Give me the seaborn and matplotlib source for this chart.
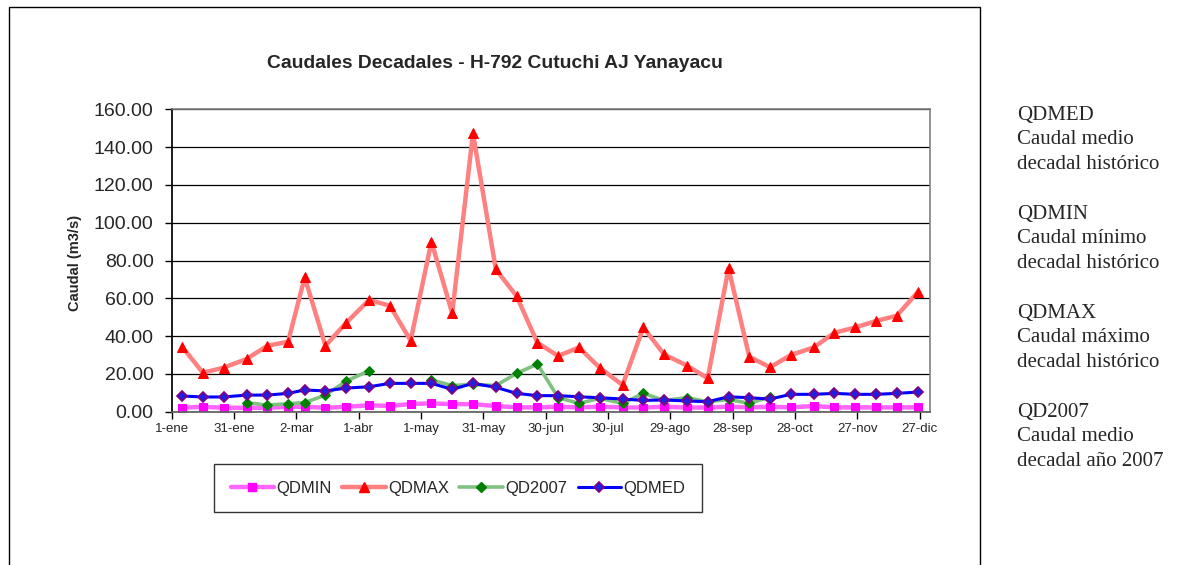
import numpy as np
import pandas as pd
import seaborn as sns
import matplotlib
matplotlib.use("Agg")
import matplotlib.pyplot as plt
from matplotlib.lines import Line2D
from matplotlib.patches import Rectangle

# decadas del año (fecha central de cada decada)
meses = list(range(1, 13))
dias_decada = [6, 16, 26]
fechas = pd.to_datetime([f"2007-{m:02d}-{d:02d}" for m in meses for d in dias_decada])

qdmin = [2.1, 2.6, 2.1, 2.1, 2.1, 2.6, 2.6, 2.1, 2.6, 3.4,
         3.0, 4.1, 4.4, 4.0, 4.0, 3.0, 2.3, 2.3, 2.6, 2.3,
         2.6, 2.3, 2.2, 2.6, 2.2, 2.2, 2.6, 2.3, 2.6, 2.3,
         3.0, 2.3, 2.3, 2.3, 2.3, 2.3]
qdmax = [34.4, 20.6, 23.3, 27.9, 34.9, 37.0, 71.1, 34.9, 47.1, 59.1,
         56.1, 37.6, 90.0, 52.1, 147.3, 75.3, 61.2, 36.5, 29.5, 34.0,
         23.3, 14.1, 44.6, 30.3, 24.4, 17.7, 75.9, 29.1, 23.5, 30.0,
         34.0, 41.8, 44.6, 48.0, 50.8, 63.2]
qd2007 = [np.nan, np.nan, np.nan, 4.8, 3.5, 4.2, 4.8, 8.8, 16.2, 21.7,
          np.nan, np.nan, 16.8, 13.8, 14.5, 13.8, 20.3, 25.2, 7.5, 4.4,
          7.1, 4.4, 9.7, 6.0, 7.4, 5.3, 6.5, 4.4, 7.9, np.nan,
          np.nan, np.nan, np.nan, np.nan, np.nan, np.nan]
qdmed = [8.3, 7.8, 7.8, 8.8, 8.8, 9.7, 11.5, 11.0, 12.5, 13.2,
         15.0, 15.0, 15.0, 11.8, 15.0, 12.9, 9.7, 8.5, 8.5, 7.9,
         7.4, 6.7, 6.0, 6.2, 5.7, 5.3, 7.9, 7.4, 6.7, 9.2,
         9.2, 9.7, 9.2, 9.2, 9.7, 10.4]

etiquetas_x = ["1-ene", "31-ene", "2-mar", "1-abr", "1-may", "31-may", "30-jun",
               "30-jul", "29-ago", "28-sep", "28-oct", "27-nov", "27-dic"]

notas = [
    "QDMED\nCaudal medio\ndecadal histórico",
    "QDMIN\nCaudal mínimo\ndecadal histórico",
    "QDMAX\nCaudal máximo\ndecadal histórico",
    "QD2007\nCaudal medio\ndecadal año 2007",
]

df = pd.DataFrame({"Fecha": fechas, "QDMIN": qdmin, "QDMAX": qdmax,
                   "QD2007": qd2007, "QDMED": qdmed})
df["tramo"] = df["QD2007"].isna().cumsum()
df07 = df.dropna(subset=["QD2007"])

sns.set_theme(style="white")
plt.rcParams["font.family"] = ["Liberation Sans", "DejaVu Sans"]

fig = plt.figure(figsize=(11.81, 5.65), dpi=100)
ax = fig.add_axes([0.1454, 0.2713, 0.7875 - 0.1454, 0.8065 - 0.2713])

estilos = {
    "QDMIN": dict(color="#FF66FF", lw=3.2, marker="s", ms=6,
                  mfc="#FF00FF", mec="#FF00FF"),
    "QDMAX": dict(color="#FF8080", lw=3.2, marker="^", ms=7,
                  mfc="#FF0000", mec="#FF0000"),
    "QD2007": dict(color="#80C080", lw=2.6, marker="D", ms=5,
                   mfc="#008000", mec="#008000"),
    "QDMED": dict(color="#0000FF", lw=2.2, marker="D", ms=5,
                  mfc="#2020E0", mec="#800080", mew=1.2),
}

sns.lineplot(data=df, x="Fecha", y="QDMIN", ax=ax, **estilos["QDMIN"])
sns.lineplot(data=df, x="Fecha", y="QDMAX", ax=ax, **estilos["QDMAX"])
sns.lineplot(data=df07, x="Fecha", y="QD2007", units="tramo", estimator=None,
             ax=ax, **estilos["QD2007"])
sns.lineplot(data=df, x="Fecha", y="QDMED", ax=ax, **estilos["QDMED"])
if ax.get_legend() is not None:
    ax.get_legend().remove()

ax.set_ylim(0, 160)
ax.set_yticks(np.arange(0, 161, 20))
ax.set_yticklabels([f"{v:.2f}" for v in np.arange(0, 161, 20)], fontsize=14)
ticks_x = pd.date_range("2007-01-01", periods=13, freq="30D")
ax.set_xlim(pd.Timestamp("2007-01-01"), pd.Timestamp("2008-01-01"))
ax.set_xticks(ticks_x)
ax.set_xticklabels(etiquetas_x, fontsize=9.5)
ax.set_xlabel("")
ax.set_ylabel("")

ax.grid(axis="y", color="black", lw=0.9)
ax.set_axisbelow(True)
for lado in ["top", "right"]:
    ax.spines[lado].set_color("#808080")
    ax.spines[lado].set_linewidth(1.2)
ax.spines["left"].set_color("black")
ax.spines["bottom"].set_color("#606060")
ax.tick_params(axis="both", direction="out", length=5, width=1, color="black",
               left=True, bottom=True)
ax.tick_params(axis="y", pad=8)
ax.tick_params(axis="x", pad=3)

fig.text(495 / 1181, 1 - 63 / 565, "Caudales Decadales - H-792 Cutuchi AJ Yanayacu",
         ha="center", va="center", fontsize=13.9, fontweight="bold")
fig.text(75 / 1181, 1 - 263 / 565, "Caudal (m3/s)", rotation=90,
         ha="center", va="center", fontsize=10.5, fontweight="bold")

handles = [Line2D([], [], **estilos[k]) for k in ["QDMIN", "QDMAX", "QD2007", "QDMED"]]
leg = fig.legend(handles, ["QDMIN", "QDMAX", "QD2007", "QDMED"], ncol=4,
                 loc="center", bbox_to_anchor=(214 / 1181, 1 - 512 / 565, 488 / 1181, 48 / 565),
                 mode="expand", fontsize=12, handlelength=2.6, handletextpad=0.15,
                 borderpad=1.0, frameon=True, fancybox=False, borderaxespad=0)
leg.get_frame().set_edgecolor("black")
leg.get_frame().set_linewidth(1)

for i, nota in enumerate(notas):
    fig.text(1017 / 1181, 1 - (106 + 99 * i) / 565, nota, ha="left", va="top",
             fontsize=15, family=["Liberation Serif", "DejaVu Serif"], linespacing=1.38)

fig.add_artist(Rectangle((9 / 1181, -0.01), (980 - 9) / 1181, (565 - 7) / 565 + 0.01,
                         transform=fig.transFigure, fill=False, ec="black", lw=1))

fig.savefig("out.png", dpi=100)
